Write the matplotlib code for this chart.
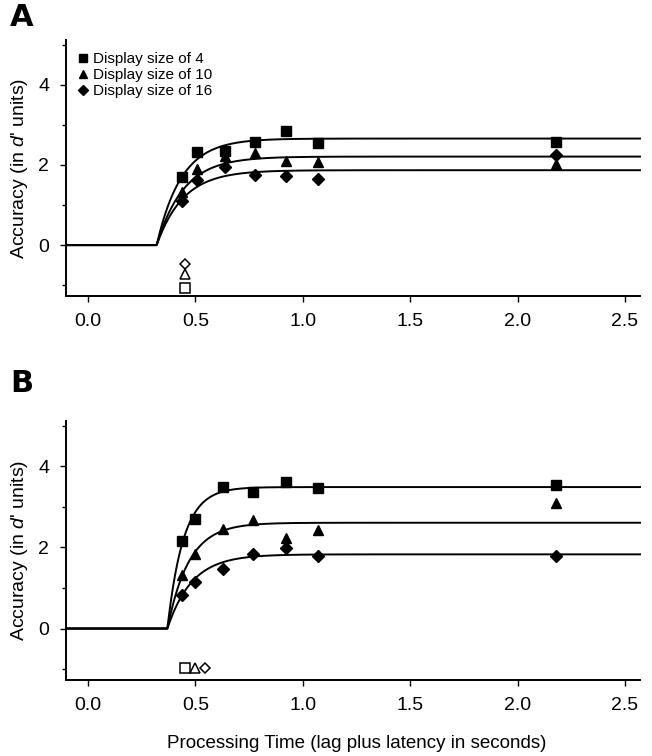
import numpy as np
import matplotlib
matplotlib.use("Agg")
import matplotlib.pyplot as plt
from matplotlib.lines import Line2D

plt.rcParams['font.family'] = ['Liberation Sans', 'DejaVu Sans']
plt.rcParams['mathtext.fontset'] = 'custom'
plt.rcParams['mathtext.it'] = 'Liberation Sans:italic'
plt.rcParams['mathtext.rm'] = 'Liberation Sans'

# ---------------- data ----------------
labels = ["Display size of 4", "Display size of 10", "Display size of 16"]
markers = ["s", "^", "D"]

time_a = [0.44, 0.51, 0.64, 0.78, 0.92, 1.07, 2.18]
sq_a = [1.71, 2.33, 2.36, 2.58, 2.85, 2.54, 2.58]
tri_a = [1.33, 1.89, 2.22, 2.29, 2.11, 2.08, 2.03]
dia_a = [1.11, 1.63, 1.96, 1.74, 1.73, 1.65, 2.25]

time_b = [0.44, 0.50, 0.63, 0.77, 0.92, 1.07, 2.18]
sq_b = [2.16, 2.69, 3.49, 3.36, 3.61, 3.46, 3.55]
tri_b = [1.31, 1.85, 2.45, 2.67, 2.24, 2.44, 3.09]
dia_b = [0.83, 1.16, 1.47, 1.84, 1.99, 1.80, 1.79]

# fitted exponential-approach parameters: asymptote, time constant, intercept
asym_a = [2.66, 2.21, 1.87]
tau_a = [0.115, 0.125, 0.125]
icpt_a = [0.32, 0.32, 0.32]

asym_b = [3.49, 2.61, 1.83]
tau_b = [0.075, 0.10, 0.115]
icpt_b = [0.37, 0.37, 0.37]

# open symbols below zero
open_x_a = [0.45, 0.45, 0.45]
open_y_a = [-1.08, -0.73, -0.46]
open_x_b = [0.45, 0.50, 0.545]
open_y_b = [-0.98, -0.98, -0.98]

xticks = [0.0, 0.5, 1.0, 1.5, 2.0, 2.5]
xticklabels = ["0.0", "0.5", "1.0", "1.5", "2.0", "2.5"]
yticks = [0, 2, 4]
yminor = [-1, 1, 3, 5]

W, H = 652, 756
fig = plt.figure(figsize=(W / 100, H / 100), dpi=100)


def rect(l, t, r, b):
    return [l / W, 1 - b / H, (r - l) / W, (b - t) / H]


ax_a = fig.add_axes(rect(66, 40, 640, 296))
ax_b = fig.add_axes(rect(66, 421, 640, 680))


def draw(ax, t, ys, asym, tau, icpt, ox, oy):
    xmin, xmax = -0.102, 2.57
    ax.set_xlim(xmin, xmax)
    ax.set_ylim(-1.27, 5.12)
    tt = np.linspace(xmin, xmax, 800)
    for a, b, c in zip(asym, tau, icpt):
        curve = np.where(tt > c, a * (1 - np.exp(-(tt - c) / b)), 0.0)
        ax.plot(tt, curve, color='black', lw=1.4, zorder=2, clip_on=False)
    for y, m in zip(ys, markers):
        ms = 7.5 if m != "D" else 5.8
        ax.plot(t, y, linestyle='none', marker=m, color='black', ms=ms, zorder=3)
    for x, y, m in zip(ox, oy, markers):
        ms = 6.5 if m != "D" else 5.0
        ax.plot([x], [y], linestyle='none', marker=m, mfc='white', mec='black',
                mew=1.1, ms=ms, zorder=3)
    for s in ['top', 'right']:
        ax.spines[s].set_visible(False)
    for s in ['left', 'bottom']:
        ax.spines[s].set_linewidth(1.4)
    ax.set_xticks(xticks)
    ax.set_xticklabels(xticklabels)
    ax.set_yticks(yticks)
    ax.set_yticks(yminor, minor=True)
    ax.tick_params(axis='both', which='major', direction='out', length=4, width=1,
                   labelsize=14, pad=8)
    ax.tick_params(axis='y', which='minor', direction='out', length=3, width=1)
    ax.set_ylabel("Accuracy (in $\\mathit{d}$' units)", fontsize=14, labelpad=6)


draw(ax_a, time_a, [sq_a, tri_a, dia_a], asym_a, tau_a, icpt_a, open_x_a, open_y_a)
draw(ax_b, time_b, [sq_b, tri_b, dia_b], asym_b, tau_b, icpt_b, open_x_b, open_y_b)

handles = [Line2D([], [], linestyle='none', marker=m, color='black',
                  ms=(6.0 if m != "D" else 4.8)) for m in markers]
ax_a.legend(handles, labels, loc='upper left', bbox_to_anchor=(0.0, 1.0),
            frameon=False, fontsize=11, handlelength=0.6, handletextpad=0.35,
            labelspacing=0.12, borderaxespad=0.4)

fig.text(357 / W, 1 - 743 / H, "Processing Time (lag plus latency in seconds)",
         ha='center', va='center', fontsize=13.5)
fig.text(10 / W, 1 - 18 / H, "A", ha='left', va='center', fontsize=22,
         fontweight='bold', family='DejaVu Sans')
fig.text(10 / W, 1 - 383 / H, "B", ha='left', va='center', fontsize=22,
         fontweight='bold', family='DejaVu Sans')

fig.savefig("out.png", dpi=100)
